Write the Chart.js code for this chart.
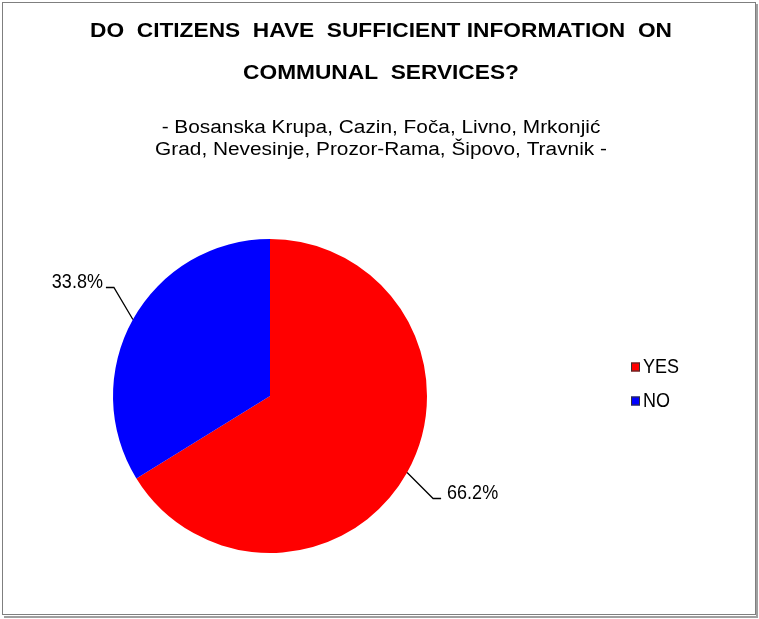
<!DOCTYPE html>
<html>
<head>
<meta charset="utf-8">
<script src="https://cdn.jsdelivr.net/npm/chart.js@4.4.0/dist/chart.umd.min.js"></script>
<style>
body{margin:0;background:#fff;}
#wrap{position:relative;width:759px;height:619px;}
</style>
</head>
<body>
<div id="wrap"><canvas id="myChart" width="759" height="619"></canvas></div>
<script>
const labels = ['YES', 'NO'];
const values = [66.2, 33.8];
const colors = ['#FF0000', '#0000FF'];
const titleLines = ['DO  CITIZENS  HAVE  SUFFICIENT INFORMATION  ON', 'COMMUNAL  SERVICES?'];
const subLines = ['- Bosanska Krupa, Cazin, Foča, Livno, Mrkonjić', 'Grad, Nevesinje, Prozor-Rama, Šipovo, Travnik -'];

const FAM = '"Liberation Sans", Arial, sans-serif';

function stretchText(c, txt, x, y, sy){
  c.save();
  c.translate(x, y);
  c.scale(1, sy);
  c.fillText(txt, 0, 0);
  c.restore();
}

// frame, headings, leader labels, legend
const extras = {
  id: 'extras',
  beforeDraw(chart){
    const c = chart.ctx;
    c.save();
    c.fillStyle = '#fff';
    c.fillRect(0,0,chart.width,chart.height);
    c.strokeStyle = '#a0a0a0';
    c.lineWidth = 2;
    c.beginPath();
    c.moveTo(757,4); c.lineTo(757,617); c.lineTo(4,617);
    c.stroke();
    c.strokeStyle = '#7f7f7f';
    c.lineWidth = 1;
    c.strokeRect(2.5,2.5,753,612);
    c.restore();
  },
  afterDraw(chart){
    const c = chart.ctx;
    c.save();
    c.fillStyle = '#000';
    c.textAlign = 'center';
    c.textBaseline = 'middle';

    // title: fit line 1 to its width in the reference
    c.font = 'bold 20px ' + FAM;
    let ts = 20 * 582 / c.measureText(titleLines[0]).width;
    c.font = 'bold ' + ts.toFixed(2) + 'px ' + FAM;
    stretchText(c, titleLines[0], 381, 31, 15 / (ts * 0.716));
    stretchText(c, titleLines[1], 381, 73, 15 / (ts * 0.716));

    c.font = '20px ' + FAM;
    let ss = 20 * 439 / c.measureText(subLines[0]).width;
    c.font = ss.toFixed(2) + 'px ' + FAM;
    stretchText(c, subLines[0], 381, 128, 13 / (ss * 0.716));
    stretchText(c, subLines[1], 381, 150, 13 / (ss * 0.716));

    const arcs = chart.getDatasetMeta(0).data;
    const offs = [[26,26],[-19,-32]];
    c.strokeStyle = '#000';
    c.lineWidth = 1.3;
    c.font = '18px ' + FAM;
    arcs.forEach((a, i) => {
      const mid = (a.startAngle + a.endAngle) / 2;
      const x0 = a.x + Math.cos(mid) * a.outerRadius;
      const y0 = a.y + Math.sin(mid) * a.outerRadius;
      const x1 = x0 + offs[i][0], y1 = y0 + offs[i][1];
      const right = offs[i][0] > 0;
      const x2 = x1 + (right ? 8 : -8);
      c.beginPath();
      c.moveTo(x0,y0); c.lineTo(x1,y1); c.lineTo(x2,y1);
      c.stroke();
      c.textAlign = right ? 'left' : 'right';
      stretchText(c, values[i].toFixed(1) + '%', x2 + (right ? 6 : -3), y1 - 5, 1.08);
    });

    // legend
    c.textAlign = 'left';
    labels.forEach((l, i) => {
      const y = 367 + i * 34;
      c.fillStyle = colors[i];
      c.fillRect(631, y - 4.5, 9, 9);
      c.strokeStyle = '#333';
      c.lineWidth = 1;
      c.strokeRect(631.5, y - 4, 8, 8);
      c.fillStyle = '#000';
      stretchText(c, l, 643, y + 1, 1.08);
    });
    c.restore();
  }
};

const ctx = document.getElementById('myChart').getContext('2d');
const myChart = new Chart(ctx, {
  type: 'pie',
  data: {
    labels: labels,
    datasets: [{
      data: values,
      backgroundColor: colors,
      borderWidth: 0
    }]
  },
  options: {
    responsive: false,
    animation: false,
    layout: { padding: { left: 113, right: 332, top: 239, bottom: 66 } },
    plugins: {
      legend: { display: false },
      tooltip: { enabled: false },
      title: { display: false },
      subtitle: { display: false }
    }
  },
  plugins: [extras]
});
</script>
</body>
</html>
